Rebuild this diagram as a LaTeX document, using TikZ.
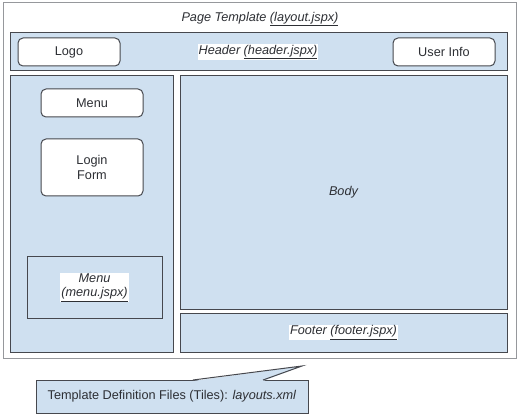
\documentclass[tikz,border=0pt]{standalone}
\usepackage{fontspec}
\setmainfont{Liberation Sans}
\usetikzlibrary{shapes, positioning}

\definecolor{tilefill}{RGB}{207,224,240}
\definecolor{tileline}{RGB}{70,72,78}
\definecolor{pageline}{RGB}{150,152,156}
\definecolor{inktext}{RGB}{45,47,52}

\begin{document}
\begin{tikzpicture}[x=1pt, y=-1pt, font=\fontsize{12.7}{14.5}\selectfont, text=inktext,
    page/.style={rectangle, draw=pageline, fill=white, line width=0.8pt},
    tile/.style={rectangle, draw=tileline, fill=tilefill, line width=1pt},
    widget/.style={rectangle, draw=tileline, fill=white, rounded corners=5pt, line width=1pt, minimum width=102pt, minimum height=28pt, text centered, align=center},
    tag/.style={fill=white, inner sep=1pt, font=\fontsize{12.7}{14.5}\selectfont\itshape, align=center},
    note/.style={rectangle, draw=tileline, fill=tilefill, line width=1pt, minimum width=272pt, minimum height=33pt}]

    \useasboundingbox (0,0) rectangle (520,417);

    % page frame
    \node [page, minimum width=513pt, minimum height=356pt] (pagebox) at (259.5,180) {};
    \node [font=\fontsize{12.7}{14.5}\selectfont\itshape] (pagetitle) at (260,19) {Page Template \underline{(layout.jspx)}};

    % header
    \node [tile, minimum width=497pt, minimum height=38pt] (header) at (258.5,52) {};
    \node [widget] (logo) at (69,52) {Logo};
    \node [widget] (userinfo) at (444,52) {User Info};
    \node [tag] (headertag) at (258,52) {Header \underline{(header.jspx)}};

    % side menu
    \node [tile, minimum width=163pt, minimum height=276pt] (sidebar) at (91.5,214) {};
    \node [widget] (menubtn) at (92,103) {Menu};
    \node [widget, minimum height=57pt] (login) at (92,167.5) {Login\\Form};
    \node [tile, minimum width=135pt, minimum height=61pt] (menutile) at (94.5,287.5) {};
    \node [tag] (menutag) at (94.5,287.5) {Menu\\\underline{(menu.jspx)}};

    % body and footer
    \node [tile, minimum width=327pt, minimum height=233pt] (body) at (343.5,192.5) {};
    \node [font=\fontsize{12.7}{14.5}\selectfont\itshape] (bodytag) at (343.5,192.5) {Body};
    \node [tile, minimum width=327pt, minimum height=39pt] (footer) at (343.5,332.5) {};
    \node [tag] (footertag) at (343.5,332.5) {Footer \underline{(footer.jspx)}};

    % definition file note with its pointer
    \node [note] (defnote) at (172,396.5) {Template Definition Files (Tiles): \textit{layouts.xml}};
    \coordinate (notetip) at (302,366);
    \coordinate (baseleft) at (193,380);
    \coordinate (baseright) at (263,380);
    \fill [tilefill] ([yshift=-1pt]baseleft) -- (notetip) -- ([yshift=-1pt]baseright) -- cycle;
    \draw [tileline, line width=1pt, line join=miter] (baseleft) -- (notetip) -- (baseright);

\end{tikzpicture}
\end{document}
